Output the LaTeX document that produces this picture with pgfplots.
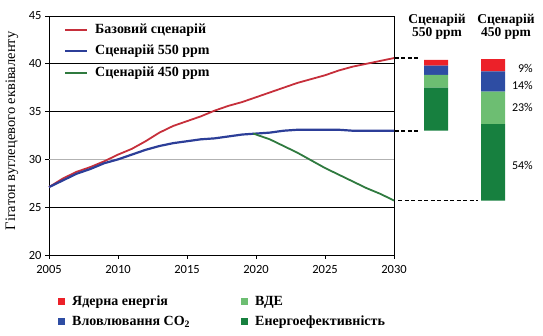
\documentclass[border=0pt]{standalone}
\usepackage{fontspec}
\setmainfont{Liberation Serif}
\newfontfamily\tickfont{Carlito}
\usepackage{pgfplots}
\pgfplotsset{compat=1.18}
\definecolor{cRed}{HTML}{C62F3B}
\definecolor{cBlue}{HTML}{2C3E98}
\definecolor{cGreen}{HTML}{2F7A3F}
\definecolor{bRed}{HTML}{EC2129}
\definecolor{bBlue}{HTML}{2E4DA3}
\definecolor{bLight}{HTML}{6DBE72}
\definecolor{bDark}{HTML}{17803F}
\begin{document}
\begin{tikzpicture}
\useasboundingbox (0,0) rectangle (543pt,336pt);
\begin{axis}[at={(49pt,81pt)}, anchor=south west, scale only axis,
  width=345pt, height=239pt,
  xmin=2005, xmax=2030, ymin=20, ymax=45,
  xtick={2005,2010,...,2030}, ytick={20,25,35,40,45},
  extra y ticks={30},
  extra y tick style={ymajorgrids=true, major grid style={gray!60, line width=0.8pt}},
  ymajorgrids, major grid style={black, line width=0.8pt},
  tick align=outside, xtick pos=lower, ytick pos=left,
  tick label style={font=\tickfont\fontsize{12.5}{12.5}\selectfont},
  /pgf/number format/assume math mode=true,
  /pgf/number format/set thousands separator={},
  axis line style={line width=0.9pt},
  major tick length=4pt, tick style={black, line width=0.8pt},
  xticklabel style={yshift=-3pt},
  clip=false]
\addplot[cRed, line width=1.8pt] coordinates {
(2005,27.1) (2006,28.0) (2007,28.7) (2008,29.2) (2009,29.8) (2010,30.5)
(2011,31.1) (2012,31.9) (2013,32.8) (2014,33.5) (2015,34.0) (2016,34.5)
(2017,35.1) (2018,35.6) (2019,36.0) (2020,36.5) (2021,37.0) (2022,37.5)
(2023,38.0) (2024,38.4) (2025,38.8) (2026,39.3) (2027,39.7) (2028,40.0)
(2029,40.3) (2030,40.6)};
\addplot[cBlue, line width=2.2pt] coordinates {
(2005,27.1) (2006,27.8) (2007,28.5) (2008,29.0) (2009,29.6) (2010,30.0)
(2011,30.5) (2012,31.0) (2013,31.4) (2014,31.7) (2015,31.9) (2016,32.1)
(2017,32.2) (2018,32.4) (2019,32.6) (2020,32.7) (2021,32.8) (2022,33.0)
(2023,33.1) (2024,33.1) (2025,33.1) (2026,33.1) (2027,33.0) (2028,33.0)
(2029,33.0) (2030,33.0)};
\addplot[cGreen, line width=1.8pt] coordinates {
(2019.8,32.7) (2021,32.1) (2022,31.4) (2023,30.7) (2024,29.9) (2025,29.1)
(2026,28.4) (2027,27.7) (2028,27.0) (2029,26.4) (2030,25.7)};
\addplot[black, line width=1.6pt, dash pattern=on 4pt off 2.5pt] coordinates {(2030.07,40.6) (2031.85,40.6)};
\addplot[black, line width=1.6pt, dash pattern=on 4pt off 2.5pt] coordinates {(2030.07,33.0) (2031.85,33.0)};
\addplot[black, line width=1.9pt, dash pattern=on 4pt off 2.5pt] coordinates {(2030.29,25.7) (2036.09,25.7)};
\end{axis}
\begin{axis}[at={(394pt,81pt)}, anchor=south west, scale only axis,
  width=149pt, height=239pt, xmin=394, xmax=543, ymin=20, ymax=45,
  hide axis, ybar stacked, bar width=24pt]
\addplot[draw=none, fill=none] coordinates {(436,33.0) (493,25.7)};
\addplot[draw=none, fill=bDark] coordinates {(436,4.5) (493,8.0)};
\addplot[draw=none, fill=bLight] coordinates {(436,1.35) (493,3.4)};
\addplot[draw=none, fill=bBlue] coordinates {(436,0.95) (493,2.1)};
\addplot[draw=none, fill=bRed] coordinates {(436,0.6) (493,1.3)};
\end{axis}
% y label
\node[rotate=90, font=\fontsize{14.5}{14.5}\selectfont] at (12pt,205pt) {Гігатон вуглецевого еквіваленту};
% top legend
\begin{scope}[font=\bfseries\fontsize{14}{14}\selectfont]
\draw[cRed, line width=1.8pt] (65pt,306pt) -- (87pt,306pt);
\node[anchor=west, inner sep=0pt] at (95pt,306pt) {Базовий сценарій};
\draw[cBlue, line width=2.2pt] (65pt,285pt) -- (87pt,285pt);
\node[anchor=west, inner sep=0pt] at (95pt,285pt) {Сценарій 550 ppm};
\draw[cGreen, line width=1.8pt] (65pt,263pt) -- (87pt,263pt);
\node[anchor=west, inner sep=0pt] at (95pt,263pt) {Сценарій 450 ppm};
% titles
\node[align=center, inner sep=0pt, font=\bfseries\fontsize{13.5}{13}\selectfont] at (437pt,309pt) {Сценарій\\550 ppm};
\node[align=center, inner sep=0pt, font=\bfseries\fontsize{13.5}{13}\selectfont] at (506pt,309pt) {Сценарій\\450 ppm};
% bottom legend
\fill[bRed] (58pt,30.5pt) rectangle (65pt,37.5pt);
\node[anchor=west, inner sep=0pt] at (72pt,34pt) {Ядерна енергія};
\fill[bBlue] (58pt,10.5pt) rectangle (65pt,17.5pt);
\node[anchor=west, inner sep=0pt] at (72pt,14pt) {Вловлювання CO\textsubscript{2}};
\fill[bLight] (241pt,30.5pt) rectangle (248pt,37.5pt);
\node[anchor=west, inner sep=0pt] at (255pt,34pt) {ВДЕ};
\fill[bDark] (241pt,10.5pt) rectangle (248pt,17.5pt);
\node[anchor=west, inner sep=0pt] at (255pt,14pt) {Енергоефективність};
\end{scope}
% percentages
\begin{scope}[font=\tickfont\fontsize{12}{12}\selectfont]
\node[anchor=east, inner sep=0pt] at (533pt,268pt) {9\%};
\node[anchor=east, inner sep=0pt] at (533pt,251pt) {14\%};
\node[anchor=east, inner sep=0pt] at (533pt,229pt) {23\%};
\node[anchor=east, inner sep=0pt] at (533pt,171pt) {54\%};
\end{scope}
\end{tikzpicture}
\end{document}
